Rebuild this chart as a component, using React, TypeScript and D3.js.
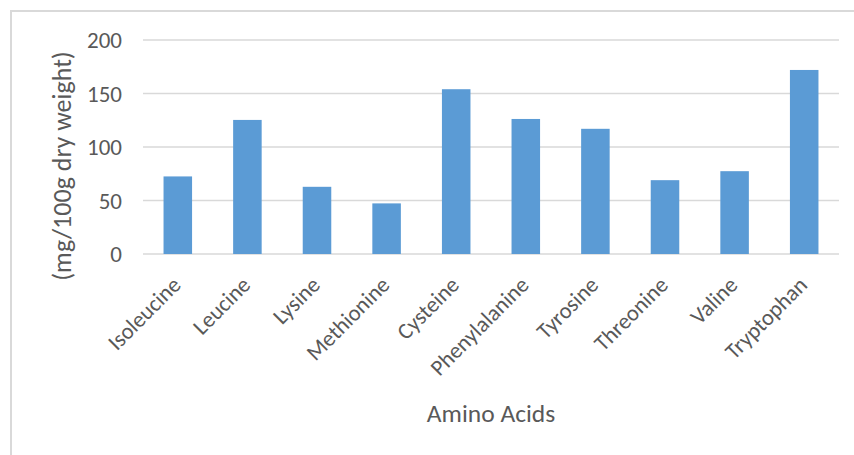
import React from "react";
import * as d3 from "d3";

const categories = ["Isoleucine", "Leucine", "Lysine", "Methionine", "Cysteine", "Phenylalanine", "Tyrosine", "Threonine", "Valine", "Tryptophan"];
const values = [72.5, 125.3, 62.8, 47.3, 154, 126.2, 117, 69, 77.4, 172];
const yTicks = [0, 50, 100, 150, 200];
const xTitle = "Amino Acids";
const yTitle = "(mg/100g dry weight)";

const W = 854;
const H = 455;
const plot = { left: 143, right: 839, top: 40, bottom: 254 };
const FONT = "Carlito, Calibri, Lato, 'Open Sans', sans-serif";
const TEXT = "#595959";

export default function App() {
  const x = d3.scaleBand<string>().domain(categories).range([plot.left, plot.right]).paddingInner(0.59).paddingOuter(0.295);
  const y = d3.scaleLinear().domain([0, 200]).range([plot.bottom, plot.top]);
  return (
    <svg width={W} height={H} style={{ position: "absolute", left: 0, top: 0, background: "#fff" }} fontFamily={FONT}>
      <rect x={0} y={0} width={W} height={H} fill="#fff" />
      <rect x={11} y={11} width={W + 20} height={H + 20} fill="none" stroke="#d9d9d9" strokeWidth={2} />
      {yTicks.map((t) => (
        <g key={t}>
          <line x1={plot.left} x2={plot.right} y1={y(t)} y2={y(t)} stroke="#d9d9d9" strokeWidth={1.5} />
          <text x={122} y={y(t)} textAnchor="end" dominantBaseline="central" fontSize={23} fill={TEXT}>{t}</text>
        </g>
      ))}
      {categories.map((c, i) => (
        <rect key={c} x={x(c)} y={y(values[i])} width={x.bandwidth()} height={y(0) - y(values[i])} fill="#5b9bd5" />
      ))}
      {categories.map((c) => {
        const cx = (x(c) as number) + x.bandwidth() / 2;
        return (
          <text key={c} transform={`translate(${cx - 1},281) rotate(-45)`} textAnchor="end" dominantBaseline="central" fontSize={22.5} fill={TEXT}>{c}</text>
        );
      })}
      <text x={(plot.left + plot.right) / 2} y={422} textAnchor="middle" fontSize={25.5} fill={TEXT}>{xTitle}</text>
      <text transform={`translate(62,166) rotate(-90)`} textAnchor="middle" dominantBaseline="central" fontSize={26} fill={TEXT}>{yTitle}</text>
    </svg>
  );
}
